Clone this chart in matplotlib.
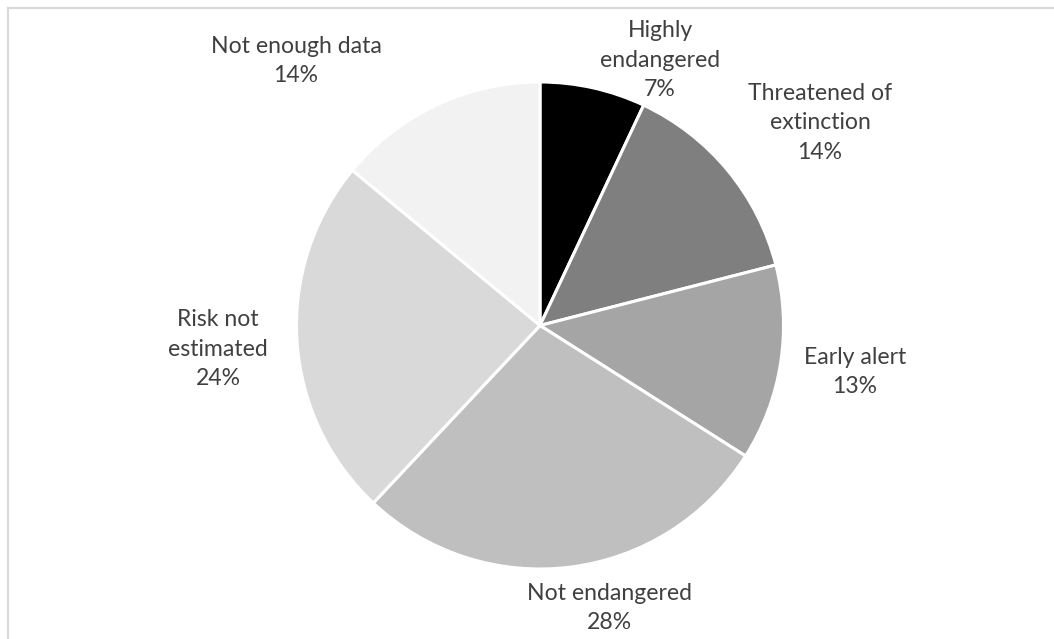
import matplotlib
matplotlib.use("Agg")
import matplotlib.pyplot as plt
from matplotlib.lines import Line2D

categories = ["Highly\nendangered", "Threatened of\nextinction", "Early alert",
              "Not endangered", "Risk not\nestimated", "Not enough data"]
values = [7, 14, 13, 28, 24, 14]
colors = ["#000000", "#7f7f7f", "#a5a5a5", "#bfbfbf", "#d9d9d9", "#f2f2f2"]
# label centres in units of pie radius (relative to pie centre)
label_pos = [(0.493, 1.090), (1.150, 0.832), (1.294, -0.191),
             (0.287, -1.160), (-1.322, -0.097), (-1.002, 1.086)]

W, H = 1054, 639
cx, cy, R = 540, 325.5, 243.5

fig = plt.figure(figsize=(W / 100, H / 100), dpi=100)
ax = fig.add_axes([0, 0, 1, 1])
ax.pie(values, colors=colors, startangle=90, counterclock=False, radius=1,
       wedgeprops=dict(edgecolor="white", linewidth=2.2))
ax.set_xlim(-cx / R, (W - cx) / R)
ax.set_ylim(-(H - cy) / R, cy / R)
ax.set_aspect("auto")
ax.axis("off")

total = sum(values)
for cat, v, (lx, ly) in zip(categories, values, label_pos):
    ax.text(lx, ly, f"{cat}\n{round(100 * v / total)}%", ha="center", va="center",
            fontsize=16.6, color="#404040", family=["Lato", "DejaVu Sans"],
            linespacing=1.52)

fc = "#d9d9d9"
fig.add_artist(Line2D([8 / W, 1], [1 - 8 / H, 1 - 8 / H], transform=fig.transFigure,
                      color=fc, linewidth=1.6))
fig.add_artist(Line2D([8 / W, 8 / W], [0, 1 - 8 / H], transform=fig.transFigure,
                      color=fc, linewidth=1.6))

fig.savefig("out.png", dpi=100, facecolor="white")
